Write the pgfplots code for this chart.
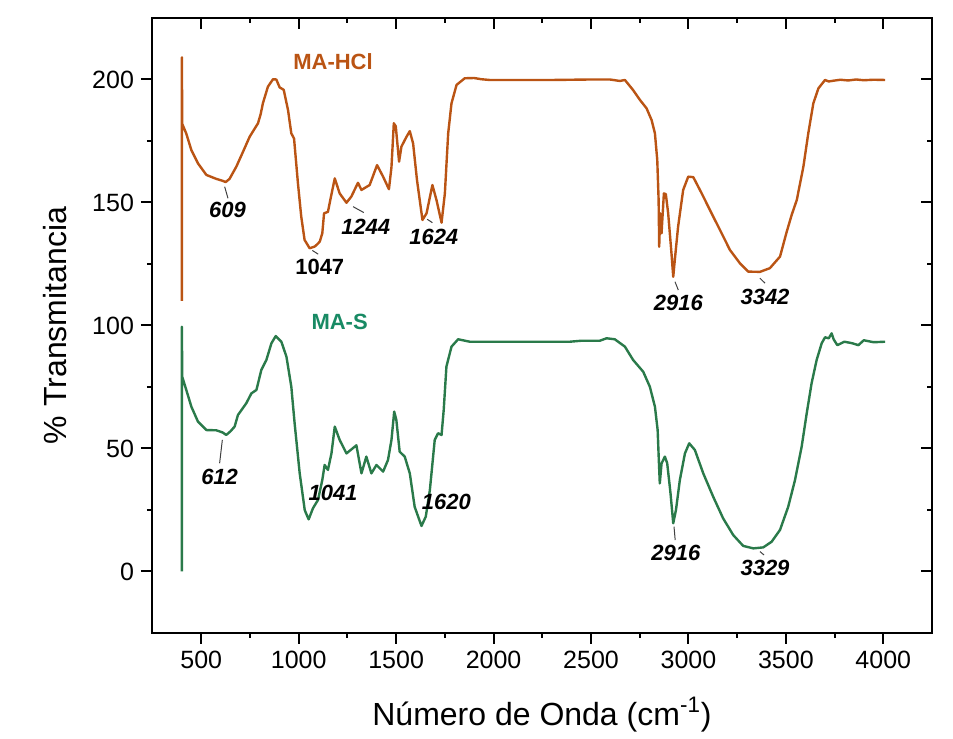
\documentclass[border=0pt]{standalone}
\usepackage{fontspec}
\setmainfont{Liberation Sans}
\usepackage{pgfplots}
\pgfplotsset{compat=1.18}
\definecolor{hclorange}{RGB}{186,84,20}
\definecolor{sgreen}{RGB}{42,122,74}
\definecolor{stext}{RGB}{24,138,100}

\begin{document}
\begin{tikzpicture}
\pgfplotsset{
  ftir/.style={
    width=390pt, height=307.5pt, scale only axis,
    xmin=247, xmax=4250, ymin=-25, ymax=225,
    xtick={500,1000,...,4000}, minor x tick num=1,
    ytick={0,50,...,200}, minor y tick num=1,
    major tick length=5.5pt, minor tick length=2.5pt,
    tick style={line width=1pt, black},
    axis line style={line width=1.2pt},
    /pgf/number format/assume math mode=true,
    /pgf/number format/set thousands separator={},
    scaled ticks=false,
    tick label style={font=\fontsize{12.5}{14}\selectfont},
  }
}
\begin{axis}[ftir,
  tick align=outside, xtick pos=bottom, ytick pos=left,
  xlabel={Número de Onda (cm\textsuperscript{-1})},
  ylabel={\% Transmitancia},
  xlabel style={font=\fontsize{16}{18}\selectfont, at={(axis description cs:0.5,-0.133)}, anchor=center},
  ylabel style={font=\fontsize{16}{18}\selectfont, at={(axis description cs:-0.124,0.5)}, anchor=center},
  clip=false,
]
% MA-HCl
\addplot[hclorange, line width=1.2pt, line join=round] coordinates {
(400,110) (400.5,209) (402,182) (423,178) (449,171.3) (483,165.9) (526,161.2)
(577,159.6) (610,158.8) (625,158.3) (645,159.6) (680,164.6) (714,170.6) (748,176.7)
(791,182.2) (805,186) (816,190.3) (842,197.1) (868,200.1) (885,200) (902,196.8)
(923,195.8) (945,187.6) (962,178.1) (976,176) (996,157.8) (1013,144.2) (1030,134.8)
(1056,131.4) (1082,132.1) (1095,133) (1108,134.1) (1121,137.5) (1130,145.6) (1150,146.2)
(1162,151) (1185,159.8) (1210,153.7) (1245,149.9) (1270,152.4) (1304,158) (1322,155.1)
(1364,157.1) (1402,165.2) (1433,160.5) (1463,155.4) (1476,164.4) (1488,182.2) (1498,181)
(1515,166.6) (1527,172.7) (1553,176.7) (1570,179) (1587,174) (1607,159.1) (1635,142.9)
(1656,145.6) (1686,157.1) (1707,151) (1733,141.8) (1750,153.7) (1767,178.1) (1784,190.3)
(1810,197.8) (1852,200.5) (1900,200.6) (1938,200.1) (1980,199.8) (2300,199.8) (2400,199.9)
(2500,200) (2597,200) (2648,199.4) (2674,199.8) (2716,195.7) (2751,191.7) (2785,188.3)
(2811,183.5) (2828,178.1) (2840,167.3) (2847,151) (2850,132) (2855,145.6) (2862,137.5)
(2874,153.7) (2884,153.4) (2896,145.6) (2913,129.3) (2922,119.8) (2930,126.6) (2947,140.2)
(2973,155.1) (2999,160.5) (3025,160.3) (3068,153.7) (3110,147) (3162,138.8) (3213,130.7)
(3264,125.3) (3307,121.9) (3367,121.8) (3418,123.3) (3470,128) (3504,138) (3530,145)
(3556,151) (3590,164.6) (3615,178.1) (3641,190.3) (3667,196.4) (3701,199.8) (3720,199.2)
(3744,199.5) (3780,199.9) (3820,199.6) (3860,200) (3900,199.7) (3950,199.9) (4009,199.8)
};
% MA-S
\addplot[sgreen, line width=1.2pt, line join=round] coordinates {
(400,0) (400.5,99.5) (402,79.2) (423,73.8) (449,67) (483,60.9) (526,57.5) (577,57.4)
(610,56.5) (628,55.5) (650,57) (671,58.9) (688,63.6) (731,68.4) (757,72.4) (783,73.8)
(808,81.9) (834,86) (860,92.8) (882,95.7) (911,93.4) (937,87.3) (962,75.1) (979,60.2)
(1005,39.9) (1031,24.9) (1051,21.2) (1073,25.7) (1099,29.1) (1121,37.2) (1133,43.3)
(1150,41.3) (1168,48) (1185,58.9) (1210,53.5) (1245,48) (1296,51.3) (1322,39.9)
(1347,46.7) (1373,39.9) (1399,43.3) (1433,40.6) (1458,45.3) (1476,53.5) (1490,65)
(1501,61.6) (1518,48.7) (1544,46.7) (1570,39.9) (1595,26.3) (1630,18.5) (1652,22.3)
(1673,33.1) (1698,53.5) (1715,56.2) (1733,55.5) (1744,65.6) (1758,83.3) (1784,91.4)
(1818,94.4) (1878,93.4) (2000,93.4) (2391,93.4) (2450,93.8) (2545,93.8) (2580,94.8)
(2622,94.4) (2674,91.4) (2716,86) (2768,81.2) (2802,75.1) (2828,67) (2842,57.5)
(2848,45.3) (2853,35.8) (2862,43.9) (2879,46.7) (2891,44) (2908,31.8) (2922,19.6)
(2936,25) (2956,37.2) (2982,48) (3004,52.1) (3033,49.4) (3076,39.9) (3127,30.4)
(3178,21.6) (3230,14.8) (3281,10.4) (3333,9.4) (3384,9.8) (3427,12.1) (3470,16.9)
(3512,26.3) (3547,37.2) (3581,50.7) (3607,64.3) (3632,76.5) (3658,86) (3684,92.8)
(3701,95.2) (3720,94.8) (3735,96.8) (3745,94.4) (3764,92) (3800,93.4) (3840,92.8)
(3872,92) (3900,94) (3950,93.2) (4009,93.4)
};
% series names
\node[font=\fontsize{11}{13}\selectfont\bfseries, text=hclorange] at (axis cs:1176,207.2) {MA-HCl};
\node[font=\fontsize{11}{13}\selectfont\bfseries, text=stext] at (axis cs:1210,101.5) {MA-S};
% peak labels
\begin{scope}[every node/.style={font=\fontsize{11}{13}\selectfont\bfseries\itshape}]
\node at (axis cs:635,147) {609};
\node[font=\fontsize{11}{13}\selectfont\bfseries] at (axis cs:1108,123.9) {1047};
\node at (axis cs:1344,140.2) {1244};
\node at (axis cs:1693,135.8) {1624};
\node at (axis cs:2948,109) {2916};
\node at (axis cs:3393,111.7) {3342};
\node at (axis cs:594,38.5) {612};
\node at (axis cs:1176,31.8) {1041};
\node at (axis cs:1758,28.4) {1620};
\node at (axis cs:2936,7.4) {2916};
\node at (axis cs:3393,1.3) {3329};
\end{scope}
\begin{scope}[black!75, line width=0.5pt]
\draw (axis cs:620,156.4) -- (axis cs:637,151.7);
\draw (axis cs:1070,130.5) -- (axis cs:1100,129);
\draw (axis cs:1279,148.3) -- (axis cs:1334,145.9);
\draw (axis cs:1659,143.2) -- (axis cs:1686,141.8);
\draw (axis cs:2931,117.8) -- (axis cs:2948,114.4);
\draw (axis cs:3367,119.2) -- (axis cs:3393,117.2);
\draw (axis cs:608,53.5) -- (axis cs:594,44);
\draw (axis cs:2926,18.2) -- (axis cs:2932,12.8);
\draw (axis cs:3367,8.1) -- (axis cs:3388,6.7);
\end{scope}
\end{axis}
\begin{axis}[ftir,
  tick align=inside, xtick pos=top, ytick pos=right,
  xticklabels={}, yticklabels={},
]
\end{axis}
\path ([shift={(-76pt,-49pt)}]current axis.south west) rectangle ([shift={(10.5pt,9pt)}]current axis.north east);
\end{tikzpicture}
\end{document}
